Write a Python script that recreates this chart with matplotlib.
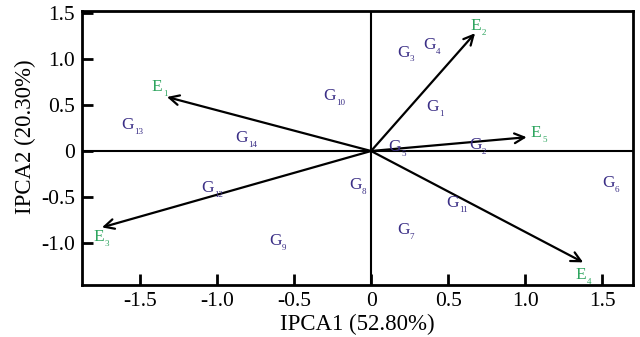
import matplotlib
matplotlib.use("Agg")
import matplotlib.pyplot as plt

plt.rcParams["font.family"] = ["Liberation Serif", "DejaVu Serif"]

# genotype scores (label positions)
gen_names = ["1", "2", "3", "4", "5", "6", "7", "8", "9", "10", "11", "12", "13", "14"]
gen_x = [0.40, 0.675, 0.21, 0.38, 0.155, 1.54, 0.21, -0.10, -0.62, -0.27, 0.53, -1.06, -1.58, -0.84]
gen_y = [0.48, 0.065, 1.07, 1.15, 0.04, -0.35, -0.86, -0.37, -0.98, 0.60, -0.57, -0.40, 0.28, 0.14]

# environment vectors
env_names = ["1", "2", "3", "4", "5"]
env_x = [-1.325, 0.675, -1.747, 1.377, 1.01]
env_y = [0.587, 1.28, -0.83, -1.21, 0.15]
env_lab_x = [-1.39, 0.68, -1.77, 1.36, 1.07]
env_lab_y = [0.70, 1.36, -0.93, -1.35, 0.20]

fig = plt.figure(figsize=(6.4, 3.37), dpi=100)
ax = fig.add_axes([0.128, 0.154, 0.861, 0.813])

ax.axhline(0, color="black", lw=1.5, zorder=1)
ax.axvline(0, color="black", lw=1.5, zorder=1)

for x, y in zip(env_x, env_y):
    ax.annotate("", xy=(x, y), xytext=(0, 0),
                arrowprops=dict(arrowstyle="->,head_length=0.5,head_width=0.25",
                                color="black", lw=1.6,
                                shrinkA=0, shrinkB=0, mutation_scale=14))


def label(x, y, letter, n, color):
    ax.text(x, y, letter, color=color, fontsize=12.5, ha="center", va="center")
    ax.annotate(n, xy=(x, y), xytext=(4.5, -5), textcoords="offset points",
                color=color, fontsize=6.5, ha="left", va="center")


for n, x, y in zip(env_names, env_lab_x, env_lab_y):
    label(x, y, "E", n, "#2ea55f")

for n, x, y in zip(gen_names, gen_x, gen_y):
    label(x, y, "G", n, "#3b2f86")

ax.set_xlim(-1.877, 1.70)
ax.set_ylim(-1.457, 1.52)
ax.set_xticks([-1.5, -1.0, -0.5, 0, 0.5, 1.0, 1.5])
ax.set_xticklabels(["-1.5", "-1.0", "-0.5", "0", "0.5", "1.0", "1.5"])
ax.set_yticks([-1.0, -0.5, 0, 0.5, 1.0, 1.5])
ax.set_yticklabels(["-1.0", "-0.5", "0", "0.5", "1.0", "1.5"])
ax.tick_params(direction="in", length=8, width=2, labelsize=15.5, pad=5)
for s in ax.spines.values():
    s.set_linewidth(2)

ax.set_xlabel("IPCA1 (52.80%)", fontsize=16.5)
ax.set_ylabel("IPCA2 (20.30%)", fontsize=16.5)
ax.xaxis.set_label_coords(0.5, -0.105)
ax.yaxis.set_label_coords(-0.084, 0.54)

fig.savefig("out.png", dpi=100)
